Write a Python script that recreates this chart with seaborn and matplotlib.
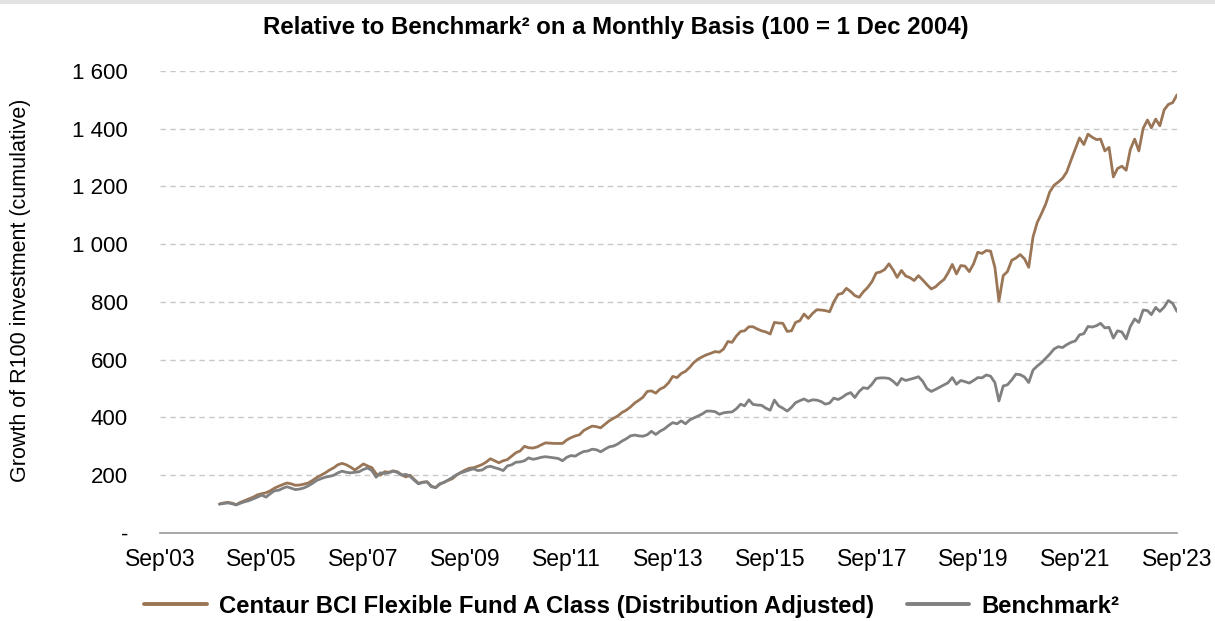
import numpy as np
import pandas as pd
import matplotlib
matplotlib.use("Agg")
import matplotlib.pyplot as plt
import matplotlib.dates as mdates
from matplotlib.ticker import FuncFormatter
from matplotlib.patches import Rectangle
import seaborn as sns

# ---- data (monthly, Nov 2004 .. Sep 2023) ----
start_month = "2004-11-01"
fund_name = "Centaur BCI Flexible Fund A Class (Distribution Adjusted)"
bench_name = "Benchmark²"

fund = [
    100, 104, 106, 103, 98, 106, 112, 118, 124, 132, 136, 139,
    146, 155, 162, 168, 173, 170, 165, 166, 169, 173, 182, 192,
    200, 208, 218, 226, 236, 241, 236, 228, 218, 228, 239, 232,
    226, 205, 200, 212, 210, 215, 212, 202, 194, 200, 185, 172,
    176, 177, 162, 157, 168, 175, 182, 188, 200, 210, 218, 224,
    226, 231, 237, 246, 257, 250, 243, 250, 254, 266, 278, 284,
    300, 295, 294, 298, 305, 312, 311, 310, 310, 310, 322, 330,
    336, 340, 355, 363, 370, 368, 364, 376, 388, 397, 405, 417,
    425, 436, 450, 460, 470, 490, 492, 484, 498, 505, 520, 542,
    538, 552, 560, 574, 590, 602, 610, 617, 622, 628, 626, 637,
    663, 660, 682, 698, 700, 714, 714, 706, 700, 696, 689, 729,
    727, 726, 698, 700, 729, 735, 758, 743, 760, 773, 772, 770,
    766, 800, 826, 830, 847, 836, 822, 816, 835, 850, 870, 900,
    904, 912, 932, 910, 885, 909, 890, 884, 874, 891, 876, 860,
    845, 852, 866, 878, 900, 930, 897, 926, 924, 905, 932, 972,
    968, 978, 976, 920, 803, 891, 905, 944, 952, 964, 949, 920,
    1025, 1075, 1106, 1140, 1181, 1204, 1215, 1228, 1250, 1291, 1330, 1368,
    1345, 1381, 1370, 1362, 1364, 1323, 1335, 1233, 1262, 1270, 1256, 1328,
    1364, 1323, 1401, 1430, 1403, 1433, 1410, 1465, 1484, 1490, 1517,
]

bench = [
    100, 102, 104, 101, 97, 103, 108, 112, 118, 124, 131, 124,
    136, 146, 148, 155, 160, 155, 150, 152, 156, 163, 172, 182,
    188, 193, 196, 200, 208, 214, 210, 208, 210, 212, 220, 225,
    216, 193, 208, 206, 208, 214, 210, 200, 203, 196, 182, 170,
    175, 177, 160, 157, 170, 175, 183, 192, 202, 208, 213, 218,
    222, 216, 218, 228, 231, 226, 222, 216, 232, 236, 245, 246,
    250, 260, 255, 258, 262, 264, 262, 260, 258, 250, 262, 268,
    266, 275, 282, 284, 290, 288, 281, 290, 298, 301, 308, 318,
    326, 336, 339, 336, 335, 340, 352, 341, 352, 360, 372, 382,
    378, 388, 378, 392, 398, 405, 412, 422, 422, 420, 411, 416,
    418, 419, 430, 446, 440, 461, 445, 443, 442, 432, 425, 460,
    440, 432, 422, 435, 451, 458, 464, 456, 461, 460, 455, 446,
    450, 467, 462, 470, 480, 486, 469, 490, 503, 500, 515, 535,
    537, 537, 535, 525, 512, 535, 528, 532, 536, 541, 525, 500,
    490, 497, 505, 513, 520, 538, 515, 528, 524, 519, 528, 538,
    537, 547, 543, 521, 457, 509, 513, 530, 550, 548, 540, 521,
    564, 578, 590, 605, 619, 637, 645, 642, 652, 660, 665, 686,
    690, 715, 713, 718, 726, 710, 712, 675, 700, 696, 672, 715,
    741, 729, 772, 770, 756, 781, 767, 782, 805, 795, 767,
]

tick_years = [2003, 2005, 2007, 2009, 2011, 2013, 2015, 2017, 2019, 2021, 2023]
y_ticks = [0, 200, 400, 600, 800, 1000, 1200, 1400, 1600]

title = "Relative to Benchmark² on a Monthly Basis (100 = 1 Dec 2004)"
ylabel = "Growth of R100 investment (cumulative)"

# ---- build frame ----
dates = pd.date_range(start_month, periods=len(fund), freq="MS")
df = pd.concat([
    pd.DataFrame({"date": dates, "value": fund, "series": fund_name}),
    pd.DataFrame({"date": dates, "value": bench, "series": bench_name}),
])

sns.set_style("white")
plt.rcParams["font.family"] = ["Liberation Sans", "DejaVu Sans"]
plt.rcParams["text.color"] = "black"
plt.rcParams["xtick.color"] = "black"
plt.rcParams["ytick.color"] = "black"
plt.rcParams["axes.labelcolor"] = "black"

fig = plt.figure(figsize=(12.15, 6.21), dpi=100)
fig.patches.append(Rectangle((0, 0.994), 1, 0.006, transform=fig.transFigure,
                             facecolor="#e3e3e3", edgecolor="none"))
ax = fig.add_axes([0.1317, 0.1418, 0.8370, 0.7440])

palette = {fund_name: "#9a7656", bench_name: "#808080"}
sns.lineplot(data=df, x="date", y="value", hue="series", palette=palette,
             linewidth=2.0, ax=ax)

ax.set_xlim(pd.Timestamp("2003-09-01"), pd.Timestamp("2023-09-01"))
ax.set_ylim(0, 1600)
ax.set_xticks([pd.Timestamp(f"{y}-09-01") for y in tick_years])
ax.xaxis.set_major_formatter(mdates.DateFormatter("%b'%y"))
ax.set_yticks(y_ticks)


def fmt(v, pos):
    v = int(round(v))
    if v == 0:
        return "-"
    return f"{v:,}".replace(",", " ")


ax.yaxis.set_major_formatter(FuncFormatter(fmt))
ax.yaxis.grid(True, linestyle=(0, (4, 3)), color="#c8c8c8", linewidth=1.0)
ax.xaxis.grid(False)
for s in ["top", "right", "left"]:
    ax.spines[s].set_visible(False)
ax.spines["bottom"].set_color("#999999")
ax.spines["bottom"].set_linewidth(1.2)
ax.tick_params(axis="x", direction="in", length=7, color="#999999", width=1.0,
               labelsize=16.5, pad=11)
ax.tick_params(axis="y", length=0, labelsize=16, pad=23)
ax.set_xlabel("")
ax.set_ylabel(ylabel, fontsize=15.5)
ax.yaxis.set_label_coords(-0.127, 0.525)

fig.text(0.507, 0.955, title, ha="center", va="center",
         fontsize=17.3, fontweight="bold")

handles, labels = ax.get_legend_handles_labels()
ax.get_legend().remove()
leg = fig.legend(handles, labels, loc="center", bbox_to_anchor=(0.52, 0.024),
                 ncol=2, frameon=False, prop={"weight": "bold", "size": 17.2},
                 handlelength=2.6, columnspacing=1.4, handletextpad=0.5,
                 borderaxespad=0, borderpad=0)
for line in leg.get_lines():
    line.set_linewidth(2.8)

fig.savefig("out.png", dpi=100)
